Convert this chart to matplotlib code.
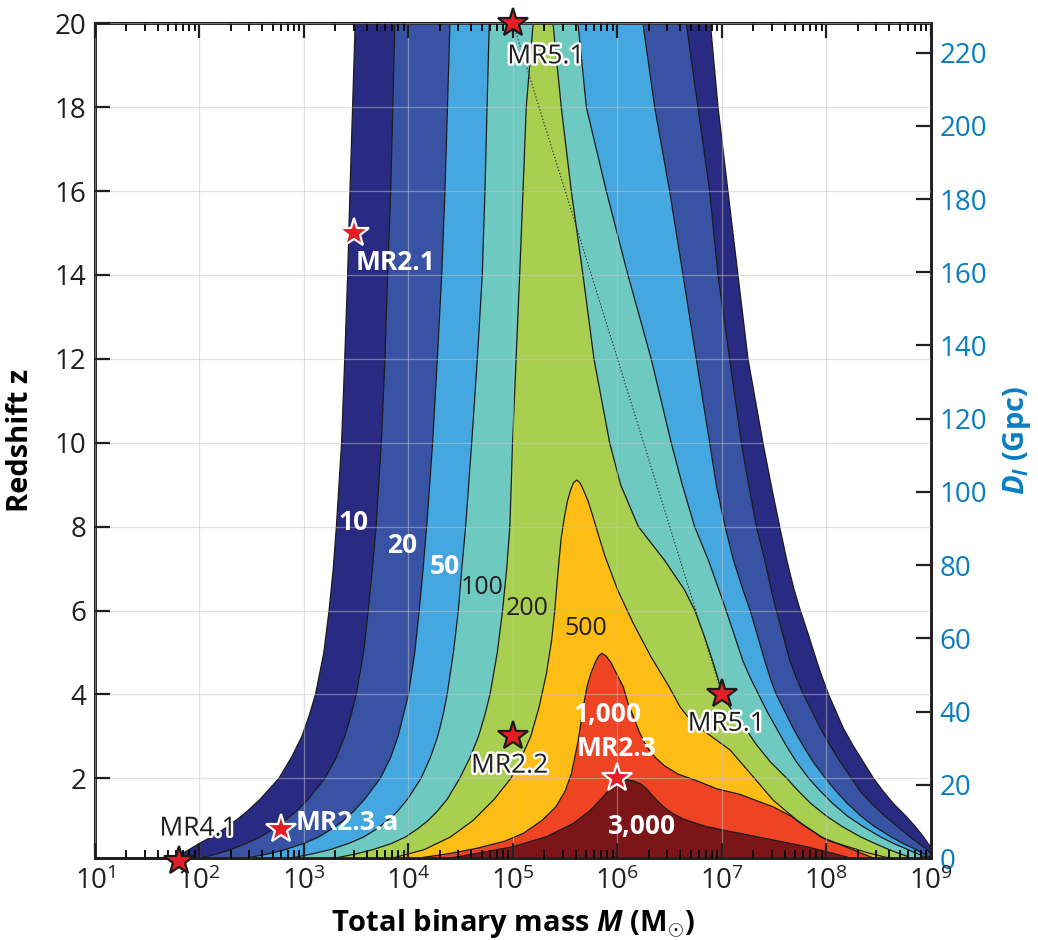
import numpy as np
import matplotlib
matplotlib.use('Agg')
import matplotlib.pyplot as plt
import matplotlib.patheffects as pe
from matplotlib.ticker import LogLocator, NullFormatter

plt.rcParams['font.family'] = ['Open Sans', 'DejaVu Sans']
plt.rcParams['mathtext.fontset'] = 'custom'
plt.rcParams['mathtext.rm'] = 'Open Sans:bold'
plt.rcParams['mathtext.it'] = 'Open Sans:italic:bold'
plt.rcParams['mathtext.bf'] = 'Open Sans:bold'

# SNR contour boundaries, log10(M / Msun)
# open bands (10..200): left edge vs z_left, right edge vs z_right
z_left = [20, 18, 16, 14, 12, 10, 8, 7, 6, 5, 4, 3.5, 3, 2.5, 2, 1.5, 1.2, 1, 0.8, 0.6, 0.45, 0.3, 0.2, 0.1, 0]
left_10 = [3.49, 3.465, 3.44, 3.418, 3.39, 3.36, 3.31, 3.28, 3.24, 3.19, 3.11, 3.05, 2.98, 2.88, 2.76,
           2.58, 2.45, 2.35, 2.24, 2.11, 2.0, 1.9, 1.83, 1.77, 1.72]
left_20 = [3.87, 3.85, 3.83, 3.80, 3.775, 3.74, 3.69, 3.655, 3.615, 3.57, 3.50, 3.45, 3.39, 3.31, 3.20,
           3.04, 2.92, 2.82, 2.71, 2.58, 2.45, 2.30, 2.17, 2.0, 1.9]
left_50 = [4.397, 4.373, 4.349, 4.318, 4.276, 4.231, 4.174, 4.14, 4.103, 4.06, 4.0, 3.95, 3.90, 3.83, 3.73,
           3.58, 3.47, 3.38, 3.27, 3.14, 3.0, 2.82, 2.66, 2.45, 2.3]
left_100 = [4.773, 4.752, 4.732, 4.706, 4.659, 4.605, 4.547, 4.51, 4.477, 4.43, 4.37, 4.33, 4.28, 4.21, 4.12,
            3.99, 3.89, 3.80, 3.70, 3.57, 3.43, 3.25, 3.08, 2.88, 2.75]
left_200 = [5.193, 5.127, 5.096, 5.064, 5.03, 4.996, 4.97, 4.94, 4.90, 4.85, 4.78, 4.73, 4.67, 4.59, 4.49,
            4.37, 4.27, 4.19, 4.09, 3.97, 3.84, 3.66, 3.50, 3.30, 3.15]

z_right = [20, 18, 16, 14, 12, 10, 9, 8, 7.2, 6.5, 6, 5.4, 4.8, 4.4, 4, 3.6, 3.2, 2.8, 2.4, 2.0, 1.7,
           1.4, 1.1, 0.85, 0.6, 0.45, 0.3, 0.15, 0]
right_10 = [6.889, 6.962, 7.057, 7.153, 7.249, 7.392, 7.47, 7.552, 7.62, 7.69, 7.75, 7.83, 7.906, 7.96,
            8.02, 8.09, 8.16, 8.25, 8.35, 8.45, 8.54, 8.64, 8.76, 8.85, 8.93, 8.97, 9.02, 9.08, 9.2]
right_20 = [6.658, 6.770, 6.882, 6.962, 7.073, 7.185, 7.255, 7.329, 7.41, 7.47, 7.52, 7.585, 7.65, 7.71,
            7.78, 7.86, 7.94, 8.03, 8.13, 8.24, 8.32, 8.43, 8.56, 8.68, 8.80, 8.88, 8.96, 9.02, 9.15]
right_50 = [6.243, 6.356, 6.499, 6.627, 6.754, 6.882, 6.945, 7.03, 7.11, 7.20, 7.27, 7.34, 7.41, 7.46,
            7.52, 7.60, 7.68, 7.77, 7.87, 7.99, 8.09, 8.20, 8.33, 8.46, 8.62, 8.73, 8.86, 8.96, 9.1]
right_100 = [5.622, 5.702, 5.893, 6.100, 6.323, 6.514, 6.62, 6.738, 6.87, 6.97, 7.04, 7.12, 7.20, 7.27,
             7.35, 7.43, 7.52, 7.61, 7.71, 7.83, 7.94, 8.06, 8.20, 8.35, 8.52, 8.64, 8.78, 8.92, 9.05]
right_200 = [5.383, 5.462, 5.558, 5.670, 5.775, 5.925, 6.03, 6.20, 6.45, 6.64, 6.74, 6.83, 6.91, 6.96,
             7.0, 7.1, 7.22, 7.33, 7.46, 7.62, 7.73, 7.85, 8.0, 8.15, 8.33, 8.46, 8.60, 8.76, 8.85]

# closed peaks (500, 1000, 3000): left edge going up, right edge going down
z_left_500 = [0, 0.1, 0.3, 0.6, 1.0, 1.5, 2.0, 2.5, 3.0, 3.7, 4.5, 5.3, 6.0, 6.9, 7.7, 8.2, 8.6, 8.9, 9.05, 9.11]
left_500 = [3.7, 3.85, 4.15, 4.40, 4.62, 4.82, 4.98, 5.08, 5.17, 5.25, 5.32, 5.37, 5.40, 5.43, 5.46,
            5.49, 5.52, 5.555, 5.58, 5.61]
z_right_500 = [9.05, 8.9, 8.6, 8.2, 7.7, 7.3, 6.5, 5.7, 4.9, 4.2, 3.7, 3.35, 3.07, 2.67, 2.12, 1.48,
               0.93, 0.53, 0.22, 0.1, 0]
right_500 = [5.64, 5.67, 5.72, 5.77, 5.83, 5.88, 6.0, 6.15, 6.32, 6.49, 6.60, 6.71, 6.86, 7.08, 7.27,
             7.49, 7.75, 8.0, 8.4, 8.6, 8.8]

z_left_1000 = [0, 0.1, 0.21, 0.33, 0.5, 0.69, 1.0, 1.32, 1.7, 2.12, 2.91, 3.71, 4.2, 4.5, 4.75, 4.92, 4.98]
left_1000 = [3.95, 4.1, 4.4, 4.65, 4.92, 5.1, 5.28, 5.41, 5.50, 5.56, 5.625, 5.673, 5.71, 5.745, 5.785,
             5.82, 5.85]
z_right_1000 = [4.92, 4.75, 4.45, 4.18, 3.8, 3.47, 3.1, 2.75, 2.5, 2.3, 2.1, 1.95, 1.75, 1.62, 1.45, 1.32,
                1.1, 0.84, 0.6, 0.45, 0.2, 0.1, 0]
right_1000 = [5.89, 5.94, 6.0, 6.056, 6.1, 6.152, 6.21, 6.28, 6.36, 6.45, 6.58, 6.75, 6.95, 7.17, 7.35,
              7.49, 7.66, 7.81, 7.95, 8.10, 8.35, 8.45, 8.6]

z_left_3000 = [0, 0.1, 0.21, 0.37, 0.61, 0.93, 1.24, 1.5, 1.72, 1.86, 1.94, 1.97]
left_3000 = [4.2, 4.4, 4.65, 5.0, 5.32, 5.58, 5.74, 5.84, 5.92, 5.98, 6.03, 6.08]
z_right_3000 = [1.94, 1.87, 1.75, 1.6, 1.48, 1.3, 1.16, 1.03, 0.93, 0.85, 0.80, 0.74, 0.69, 0.53, 0.37,
                0.25, 0.13, 0]
right_3000 = [6.15, 6.22, 6.28, 6.33, 6.375, 6.45, 6.53, 6.63, 6.75, 6.85, 6.95, 7.06, 7.17, 7.49, 7.81,
              8.0, 8.19, 8.3]

colors = ['#292b82', '#3953a4', '#45a7df', '#6ec9c0', '#a8cf4f', '#fdbd15', '#ee4424', '#7c1517']

# contour labels
lab_text = ['10', '20', '50', '100', '200', '500', '1,000', '3,000']
lab_mass = [3.0e3, 8.6e3, 2.23e4, 5.1e4, 1.36e5, 4.98e5, 8.0e5, 1.7e6]
lab_z = [8.09, 7.54, 7.06, 6.55, 6.05, 5.57, 3.51, 0.84]
lab_white = [True, True, True, False, False, False, True, True]

# sources
star_names = ['MR2.1', 'MR5.1', 'MR2.2', 'MR2.3', 'MR5.1', 'MR4.1', 'MR2.3.a']
star_mass = [3e3, 1e5, 1e5, 1e6, 1e7, 63, 600]
star_z = [15, 20, 3, 2, 4, 0.02, 0.8]
star_white_edge = [True, False, False, True, False, False, True]
name_mass = [7.5e3, 2.07e5, 9.3e4, 9.8e5, 1.1e7, 97, 2.6e3]
name_z = [14.3, 19.2, 2.29, 2.70, 3.29, 0.79, 0.94]

fig = plt.figure(figsize=(10.38, 9.40), dpi=100)
ax = fig.add_axes([0.0915, 0.0872, 0.8054, 0.888])
ax2 = ax.twinx()
ax.set_zorder(ax2.get_zorder() + 1)
ax.patch.set_visible(False)

edge = '#1c1c1c'
open_bands = [(left_10, right_10), (left_20, right_20), (left_50, right_50),
              (left_100, right_100), (left_200, right_200)]
for (lft, rgt), col in zip(open_bands, colors[:5]):
    xs = np.concatenate([np.array(lft)[::-1], rgt])
    zs = np.concatenate([np.array(z_left)[::-1], z_right])
    ax.fill(10 ** xs, zs, color=col, lw=0, zorder=1)
    ax.plot(10 ** np.array(lft), z_left, color=edge, lw=0.9, zorder=2)
    ax.plot(10 ** np.array(rgt), z_right, color=edge, lw=0.9, zorder=2)

peaks = [(z_left_500, left_500, z_right_500, right_500),
         (z_left_1000, left_1000, z_right_1000, right_1000),
         (z_left_3000, left_3000, z_right_3000, right_3000)]
for (zl, lft, zr, rgt), col in zip(peaks, colors[5:]):
    xs = 10 ** np.concatenate([lft, rgt])
    zs = np.concatenate([zl, zr])
    ax.fill(xs, zs, color=col, lw=0, zorder=1)
    ax.plot(xs, zs, color=edge, lw=0.9, zorder=2)

# dotted track between the two MR5.1 points
ax.plot([star_mass[1], star_mass[4]], [star_z[1], star_z[4]], ls=(0, (1.2, 1.8)),
        color='#333333', lw=0.8, zorder=3)

ax.set_xscale('log')
ax.set_xlim(1e1, 1e9)
ax.set_ylim(0.1, 20)
ax.set_yticks(range(2, 21, 2))
ax.xaxis.set_major_locator(LogLocator(base=10, numticks=20))
ax.xaxis.set_minor_locator(LogLocator(base=10, subs=np.arange(2, 10), numticks=100))
ax.xaxis.set_minor_formatter(NullFormatter())
ax.grid(True, which='major', color='#c4c4c4', lw=0.9, alpha=0.5)
ax.set_axisbelow(False)

ax.tick_params(axis='x', which='both', direction='in', top=True, bottom=True, pad=7)
ax.tick_params(axis='y', which='both', direction='in', left=True, right=False, pad=6)
ax.tick_params(which='major', length=11, width=1.6, labelsize=20, colors='#231f20')
ax.tick_params(which='minor', length=5.5, width=1.3)

for lt, m, z, w in zip(lab_text, lab_mass, lab_z, lab_white):
    ax.text(m, z, lt, ha='center', va='center', fontsize=19 if w else 18,
            color='white' if w else '#231f20', fontweight='bold' if w else 'normal', zorder=6)

for nm, m, z, we, lm, lz in zip(star_names, star_mass, star_z, star_white_edge, name_mass, name_z):
    ax.plot(m, z, marker='*', ms=22, mfc='#e31e26', mec='white' if we else '#1a1a1a',
            mew=1.6, clip_on=False, zorder=7)
    if we:
        ax.text(lm, lz, nm, ha='center', va='center', fontsize=19, color='white',
                fontweight='bold', zorder=8)
    else:
        ax.text(lm, lz, nm, ha='center', va='center', fontsize=19, color='#231f20', zorder=8,
                path_effects=[pe.withStroke(linewidth=3.5, foreground='white')])

ax.set_xlabel(r'Total binary mass $M$ ($\mathrm{M}_{\odot}$)', fontsize=21, fontweight='bold', labelpad=8)
ax.set_ylabel('Redshift z', fontsize=21, fontweight='bold', labelpad=14)

blue = '#0a7dc2'
ax2.set_ylim(0, 228)
ax2.set_yticks(range(0, 221, 20))
ax2.tick_params(axis='y', direction='in', length=11, width=1.6, labelsize=20,
                labelcolor=blue, color='#231f20', pad=6)
ax2.set_ylabel(r'$D_l$ (Gpc)', fontsize=21, fontweight='bold', color=blue, labelpad=10)

for a in (ax, ax2):
    for s in a.spines.values():
        s.set_linewidth(2)
        s.set_color('#231f20')

fig.savefig('out.png', dpi=100, facecolor='white')
